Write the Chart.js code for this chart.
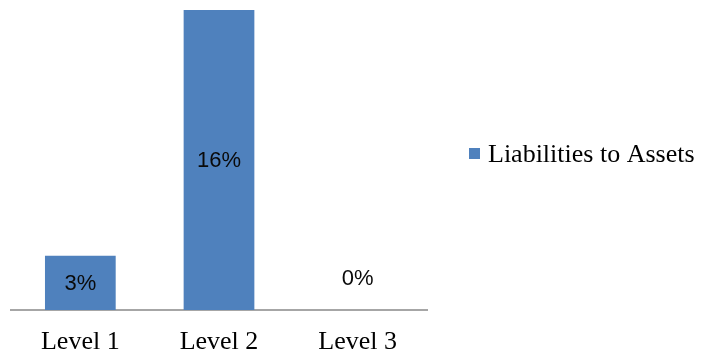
<!DOCTYPE html>
<html>
<head>
<meta charset="utf-8">
<script src="https://cdn.jsdelivr.net/npm/chart.js@4"></script>
<style>
  html, body { margin: 0; padding: 0; background: #fff; }
  #wrap { width: 705px; height: 358px; position: relative; }
</style>
</head>
<body>
<div id="wrap"><canvas id="chart"></canvas></div>
<script>
// data
var levels = ['Level 1', 'Level 2', 'Level 3'];
var liabToAssets = [2.9, 16, 0];
var seriesName = 'Liabilities to Assets';
var barColor = '#4F81BD';

// value labels in the middle of each bar
var barLabels = {
    id: 'barLabels',
    afterDatasetsDraw: function (chart) {
        var ctx = chart.ctx;
        var meta = chart.getDatasetMeta(0);
        ctx.save();
        ctx.font = '22px "Liberation Sans", Arial, sans-serif';
        ctx.fillStyle = '#0a0a0a';
        ctx.textAlign = 'center';
        ctx.textBaseline = 'middle';
        meta.data.forEach(function (el, i) {
            var v = liabToAssets[i];
            var y = v === 0 ? el.base - 32 : (el.y + el.base) / 2;
            ctx.fillText(Math.round(v) + '%', el.x, y + 1);
        });
        ctx.restore();
    }
};

// legend on the right, drawn by hand
var sideLegend = {
    id: 'sideLegend',
    afterDraw: function (chart) {
        var ctx = chart.ctx;
        ctx.save();
        ctx.fillStyle = barColor;
        ctx.fillRect(469, 148, 11, 11);
        ctx.font = '26px "Liberation Serif", "Times New Roman", serif';
        ctx.fillStyle = '#000';
        ctx.textBaseline = 'middle';
        ctx.fillText(seriesName, 488, 155);
        ctx.restore();
    }
};

new Chart(document.getElementById('chart'), {
    type: 'bar',
    data: {
        labels: levels,
        datasets: [{
            label: seriesName,
            data: liabToAssets,
            backgroundColor: barColor,
            categoryPercentage: 1,
            barPercentage: 0.51
        }]
    },
    options: {
        responsive: true,
        maintainAspectRatio: false,
        animation: false,
        layout: { padding: { left: 11, top: 10, right: 278, bottom: 0 } },
        plugins: {
            legend: { display: false },
            tooltip: { enabled: false }
        },
        scales: {
            x: {
                grid: { display: false, drawTicks: false },
                border: { color: '#A6A6A6', width: 2 },
                ticks: {
                    color: '#000',
                    padding: 17,
                    font: { family: '"Liberation Serif", "Times New Roman", serif', size: 26 }
                },
                afterFit: function (scale) { scale.height = 48; }
            },
            y: {
                display: false,
                min: 0,
                max: 16
            }
        }
    },
    plugins: [barLabels, sideLegend]
});
</script>
</body>
</html>
